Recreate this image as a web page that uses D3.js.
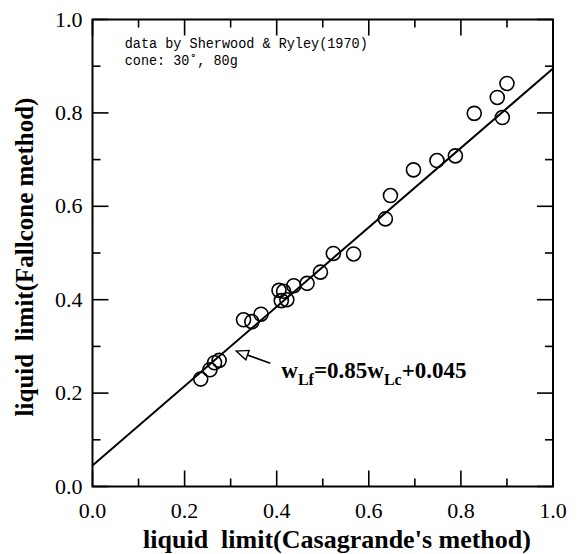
<!DOCTYPE html>
<html><head><meta charset="utf-8">
<script src="https://cdn.jsdelivr.net/npm/d3@7"></script>
<style>body{margin:0;background:#fff}svg{display:block}</style>
</head><body>
<svg id="chart" width="579" height="554"></svg>
<script>
// Data
const casagrande = [0.235,0.255,0.265,0.275,0.328,0.346,0.366,0.405,0.415,0.410,0.422,0.437,0.466,0.495,0.523,0.567,0.636,0.647,0.697,0.748,0.788,0.829,0.879,0.890,0.900];
const fallcone   = [0.230,0.250,0.265,0.270,0.357,0.353,0.369,0.420,0.418,0.398,0.400,0.430,0.435,0.459,0.499,0.498,0.573,0.623,0.678,0.698,0.708,0.799,0.833,0.790,0.863];
const majorTicks = [0.0,0.2,0.4,0.6,0.8,1.0];
const minorTicks = [0.1,0.3,0.5,0.7,0.9];
const fitSlope = 0.85, fitIntercept = 0.045;
const noteLines = ["data by Sherwood & Ryley(1970)", "cone: 30\u02DA, 80g"];

const svg = d3.select("#chart");
const L = 92.5, R = 553, T = 19.5, B = 486.5;
const x = d3.scaleLinear().domain([0,1]).range([L,R]);
const y = d3.scaleLinear().domain([0,1]).range([B,T]);
const serif = "'Liberation Serif','Times New Roman',serif";

// ticks inside on all sides
const g = svg.append("g").attr("stroke","#000").attr("stroke-width",1.6);
const tickSets = [[majorTicks,16],[minorTicks,8]];
tickSets.forEach(([ts,len])=>{
  ts.forEach(t=>{
    g.append("line").attr("x1",x(t)).attr("x2",x(t)).attr("y1",B).attr("y2",B-len);
    g.append("line").attr("x1",x(t)).attr("x2",x(t)).attr("y1",T).attr("y2",T+len);
    g.append("line").attr("y1",y(t)).attr("y2",y(t)).attr("x1",L).attr("x2",L+len);
    g.append("line").attr("y1",y(t)).attr("y2",y(t)).attr("x1",R).attr("x2",R-len);
  });
});
svg.append("rect").attr("x",L).attr("y",T).attr("width",R-L).attr("height",B-T)
  .attr("fill","none").attr("stroke","#000").attr("stroke-width",2);

// tick labels
svg.append("g").selectAll("text").data(majorTicks).join("text")
  .attr("x",d=>x(d)).attr("y",B+31).attr("text-anchor","middle")
  .attr("font-family",serif).attr("font-size",22).text(d=>d.toFixed(1));
svg.append("g").selectAll("text").data(majorTicks).join("text")
  .attr("x",L-10).attr("y",d=>y(d)+7).attr("text-anchor","end")
  .attr("font-family",serif).attr("font-size",22).text(d=>d.toFixed(1));

// axis titles
svg.append("text").attr("x",337).attr("y",548).attr("text-anchor","middle")
  .attr("font-family",serif).attr("font-weight","bold").attr("font-size",26)
  .style("white-space","pre")
  .text("liquid  limit(Casagrande's method)");
svg.append("text").attr("transform",`translate(33,257) rotate(-90)`).attr("text-anchor","middle")
  .attr("font-family",serif).attr("font-weight","bold").attr("font-size",25)
  .style("white-space","pre")
  .text("liquid  limit(Fallcone method)");

// regression line
svg.append("line").attr("x1",x(0)).attr("y1",y(fitIntercept)).attr("x2",x(1)).attr("y2",y(fitSlope+fitIntercept))
  .attr("stroke","#000").attr("stroke-width",2);

// points
svg.append("g").selectAll("circle").data(casagrande.map((c,i)=>[c,fallcone[i]])).join("circle")
  .attr("cx",d=>x(d[0])).attr("cy",d=>y(d[1])).attr("r",7)
  .attr("fill","none").attr("stroke","#000").attr("stroke-width",1.6);

// note
const noteLen = [243, 113];
svg.append("g").selectAll("text").data(noteLines).join("text")
  .attr("x",x(0.07)).attr("y",(d,i)=>y(0.938)+i*17)
  .attr("font-family","'Liberation Mono','DejaVu Sans Mono',monospace").attr("font-size",15.5)
  .attr("textLength",(d,i)=>noteLen[i]).attr("lengthAdjust","spacingAndGlyphs")
  .style("white-space","pre").text(d=>d);

// arrow
const tip=[x(0.312),y(0.290)], tail=[x(0.386),y(0.264)];
svg.append("line").attr("x1",tail[0]).attr("y1",tail[1]).attr("x2",tip[0]+9).attr("y2",tip[1]+3.2)
  .attr("stroke","#000").attr("stroke-width",1.6);
const ang=Math.atan2(tail[1]-tip[1],tail[0]-tip[0]);
const hl=12, hw=5;
const bx=tip[0]+hl*Math.cos(ang), by=tip[1]+hl*Math.sin(ang);
const px=-Math.sin(ang)*hw, py=Math.cos(ang)*hw;
svg.append("polygon").attr("points",[[tip[0],tip[1]],[bx+px,by+py],[bx-px,by-py]].map(p=>p.join(",")).join(" "))
  .attr("fill","#fff").attr("stroke","#000").attr("stroke-width",1.4);

// equation
const eq = svg.append("text").attr("x",x(0.41)).attr("y",y(0.232))
  .attr("font-family",serif).attr("font-weight","bold").attr("font-size",23);
eq.append("tspan").text("w");
eq.append("tspan").attr("font-size",16).attr("dy",7).text("Lf");
eq.append("tspan").attr("dy",-7).text("=0.85w");
eq.append("tspan").attr("font-size",16).attr("dy",7).text("Lc");
eq.append("tspan").attr("dy",-7).text("+0.045");
</script>
</body></html>
